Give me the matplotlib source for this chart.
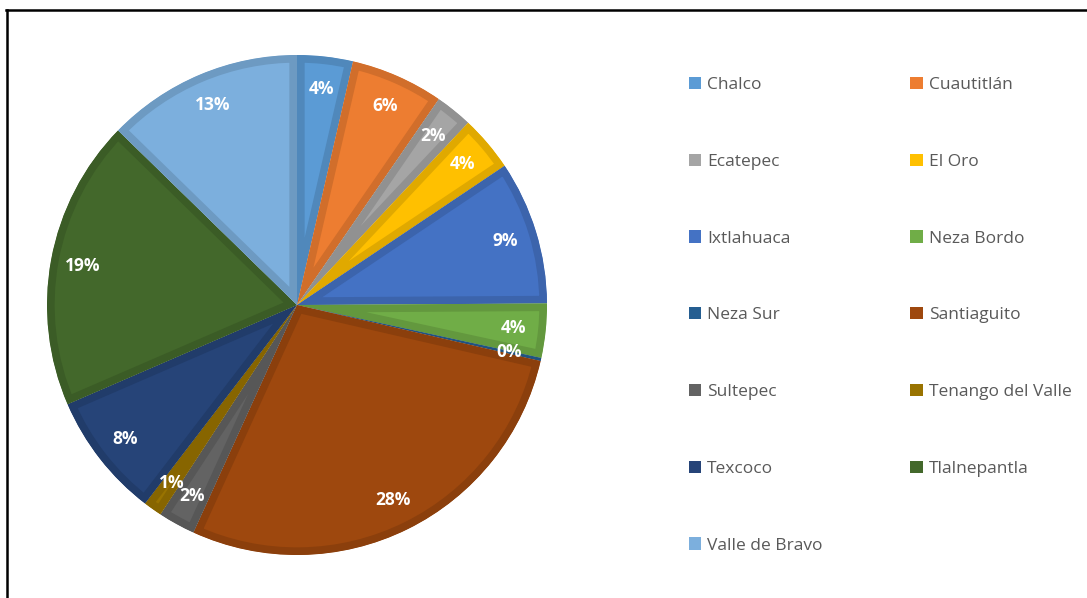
import matplotlib.pyplot as plt
from matplotlib.patches import Patch, Wedge
from matplotlib.lines import Line2D
import matplotlib.colors as mcolors

# Share per site (%), clockwise from 12 o'clock
sites = ["Chalco", "Cuautitlán", "Ecatepec", "El Oro", "Ixtlahuaca", "Neza Bordo",
         "Neza Sur", "Santiaguito", "Sultepec", "Tenango del Valle", "Texcoco",
         "Tlalnepantla", "Valle de Bravo"]
shares = [3.6, 6.0, 2.4, 3.6, 9.3, 3.5, 0.2, 28.2, 2.4, 1.2, 8.1, 18.8, 12.7]
colors = ["#5B9BD5", "#ED7D31", "#A5A5A5", "#FFC000", "#4472C4", "#70AD47",
          "#255E91", "#9E480E", "#636363", "#997300", "#264478", "#43682B",
          "#7CAFDD"]

plt.rcParams['font.family'] = ['Open Sans', 'DejaVu Sans']

W, H = 1087, 598
fig = plt.figure(figsize=(W / 100, H / 100), dpi=100)
ax = fig.add_axes([47 / W, 1 - 555 / H, 500 / W, 500 / H])

wedges, texts, autotexts = ax.pie(
    shares, colors=colors, startangle=90, counterclock=False,
    autopct=lambda p: f"{p:.0f}%", pctdistance=0.87,
    wedgeprops=dict(linewidth=11),
    textprops=dict(color="white", fontsize=12.5, fontweight="bold"))

# darker inner border like the Excel style, clipped to a copy of each wedge
for w, c in zip(wedges, colors):
    rgb = [v * 0.88 for v in mcolors.to_rgb(c)]
    w.set_edgecolor(rgb)
    clip = Wedge(w.center, w.r, w.theta1, w.theta2, transform=ax.transData)
    w.set_clip_path(clip)
    w.set_clip_on(True)

ax.set_xlim(-1, 1)
ax.set_ylim(-1, 1)
ax.set_aspect("equal")
ax.axis("off")

# legend filled row by row (matplotlib fills columns first)
order = list(range(0, 13, 2)) + list(range(1, 13, 2))
handles = [Patch(facecolor=colors[i], edgecolor="none") for i in order]
labels = [sites[i] for i in order]
fig.legend(handles, labels, ncol=2, loc="upper left",
           bbox_to_anchor=(689 / W, 1 - 77 / H), frameon=False,
           fontsize=12.5, labelcolor="#595959", handlelength=0.7,
           handleheight=0.7, handletextpad=0.35, labelspacing=3.49,
           columnspacing=5.05, borderpad=0, borderaxespad=0)

# outer frame (top and left edges only, as in the screenshot)
fig.add_artist(Line2D([6 / W, 1], [1 - 10 / H, 1 - 10 / H], color="black", lw=1.8))
fig.add_artist(Line2D([7 / W, 7 / W], [0, 1 - 10 / H], color="black", lw=1.8))

fig.savefig("out.png", dpi=100)
